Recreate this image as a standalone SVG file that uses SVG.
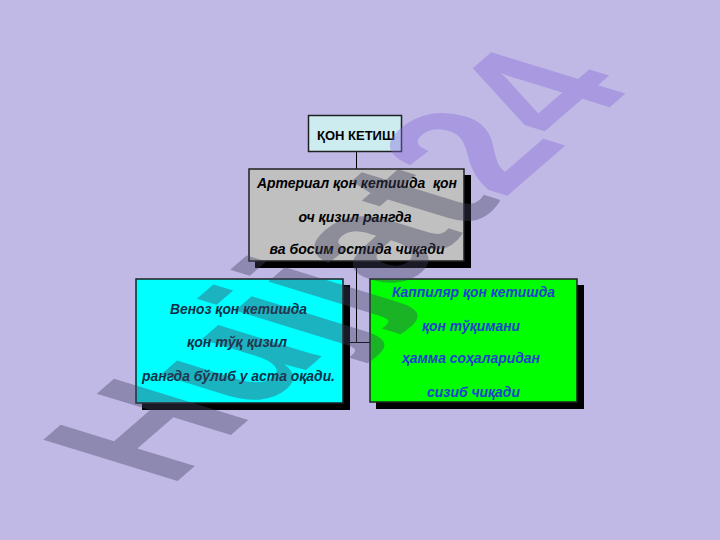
<svg xmlns="http://www.w3.org/2000/svg" width="720" height="540" viewBox="0 0 720 540">
<style>
.box{stroke:#202020;stroke-width:1.5}
.shadow{fill:#000}
.t{font-family:"Liberation Sans",Arial,sans-serif;font-size:14.5px;font-weight:bold;font-style:italic;text-anchor:middle}
.title{font-family:"Liberation Sans",Arial,sans-serif;font-size:13px;font-weight:bold;text-anchor:middle;fill:#000}
.conn{stroke:#000;stroke-width:1;fill:none}
.wm{font-family:"Liberation Sans",Arial,sans-serif;font-size:100px;font-weight:bold}
</style>
<rect width="720" height="540" fill="#c0b9e6"/>
<g id="connectors">
<line class="conn" x1="356.5" y1="151" x2="356.5" y2="169"/>
<polyline class="conn" points="356.5,261 356.5,342.5 343,342.5"/>
<line class="conn" x1="356.5" y1="342.5" x2="370" y2="342.5"/>
</g>
<g id="title">
<rect class="box" x="308.5" y="115.5" width="93" height="36" fill="#ccecf0"/>
<text class="title" x="356" y="140">ҚОН КЕТИШ</text>
</g>
<g id="arterial">
<rect class="shadow" x="255" y="175" width="216" height="93"/>
<rect class="box" x="249" y="169" width="215" height="92" fill="#c0c0c0"/>
<text class="t" fill="#000" x="357" y="188" textLength="200" lengthAdjust="spacingAndGlyphs" xml:space="preserve">Артериал қон кетишда  қон</text>
<text class="t" fill="#000" x="355" y="222" textLength="113" lengthAdjust="spacingAndGlyphs">оч қизил рангда</text>
<text class="t" fill="#000" x="357" y="254" textLength="175" lengthAdjust="spacingAndGlyphs">ва босим остида чиқади</text>
</g>
<g id="venous">
<rect class="shadow" x="142" y="285" width="208" height="125"/>
<rect class="box" x="136" y="279" width="207" height="124" fill="#00ffff"/>
<text class="t" fill="#0f3048" x="238.5" y="314" textLength="137" lengthAdjust="spacingAndGlyphs">Веноз қон кетишда</text>
<text class="t" fill="#0f3048" x="237" y="347" textLength="100" lengthAdjust="spacingAndGlyphs">қон тўқ қизил</text>
<text class="t" fill="#0f3048" x="238.5" y="381" textLength="193" lengthAdjust="spacingAndGlyphs">рангда бўлиб у аста оқади.</text>
</g>
<g id="capillary">
<rect class="shadow" x="376" y="285" width="208" height="124"/>
<rect class="box" x="370" y="279" width="207" height="123" fill="#00ff00"/>
<text class="t" fill="#1f3fd0" x="473.5" y="297" textLength="163" lengthAdjust="spacingAndGlyphs">Каппиляр қон кетишда</text>
<text class="t" fill="#1f3fd0" x="471" y="331" textLength="98" lengthAdjust="spacingAndGlyphs">қон тўқимани</text>
<text class="t" fill="#1f3fd0" x="471" y="363" textLength="138" lengthAdjust="spacingAndGlyphs">ҳамма соҳаларидан</text>
<text class="t" fill="#1f3fd0" x="473.5" y="397" textLength="93" lengthAdjust="spacingAndGlyphs">сизиб чиқади</text>
</g>
<text class="wm" transform="matrix(1.202,-1.040,1.950,0.600,169.5,488)" x="0" y="0"><tspan fill="#404060" fill-opacity="0.4">Hujjat</tspan><tspan fill="#8468d7" fill-opacity="0.4">24</tspan></text>
</svg>
